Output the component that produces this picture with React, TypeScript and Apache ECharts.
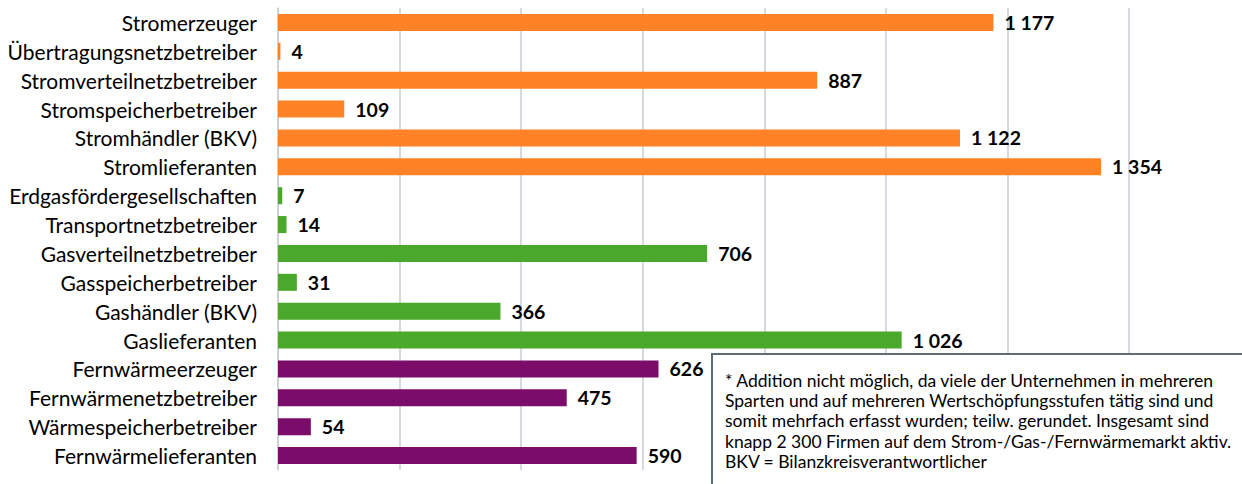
import React, { useEffect, useRef } from "react";
import * as echarts from "echarts";

const stromCategories = [
  "Stromerzeuger",
  "Übertragungsnetzbetreiber",
  "Stromverteilnetzbetreiber",
  "Stromspeicherbetreiber",
  "Stromhändler (BKV)",
  "Stromlieferanten",
];
const stromValues = [1177, 4, 887, 109, 1122, 1354];

const gasCategories = [
  "Erdgasfördergesellschaften",
  "Transportnetzbetreiber",
  "Gasverteilnetzbetreiber",
  "Gasspeicherbetreiber",
  "Gashändler (BKV)",
  "Gaslieferanten",
];
const gasValues = [7, 14, 706, 31, 366, 1026];

const waermeCategories = [
  "Fernwärmeerzeuger",
  "Fernwärmenetzbetreiber",
  "Wärmespeicherbetreiber",
  "Fernwärmelieferanten",
];
const waermeValues = [626, 475, 54, 590];

const groupColors = { strom: "#FF8326", gas: "#4AA82A", waerme: "#7B0C6A" };

const noteLines = [
  "* Addition nicht möglich, da viele der Unternehmen in mehreren",
  "Sparten und auf mehreren Wertschöpfungsstufen tätig sind und",
  "somit mehrfach erfasst wurden; teilw. gerundet. Insgesamt sind",
  "knapp 2 300 Firmen auf dem Strom-/Gas-/Fernwärmemarkt aktiv.",
  "BKV = Bilanzkreisverantwortlicher",
];

const FONT = "Lato, 'Open Sans', sans-serif";

function fmt(v: number): string {
  return String(v).replace(/\B(?=(\d{3})+(?!\d))/g, " ");
}

export default function App() {
  const ref = useRef<HTMLDivElement>(null);
  useEffect(() => {
    if (!ref.current) return;
    const chart = echarts.init(ref.current, undefined, { renderer: "svg" });
    const categories = [...stromCategories, ...gasCategories, ...waermeCategories];
    const data = [
      ...stromValues.map((v) => ({ value: v, itemStyle: { color: groupColors.strom } })),
      ...gasValues.map((v) => ({ value: v, itemStyle: { color: groupColors.gas } })),
      ...waermeValues.map((v) => ({ value: v, itemStyle: { color: groupColors.waerme } })),
    ];
    chart.setOption({
      animation: false,
      grid: { left: 278, right: 113, top: 8, bottom: 14, containLabel: false },
      xAxis: {
        type: "value",
        min: 0,
        max: 1400,
        interval: 200,
        axisLabel: { show: false },
        axisLine: { show: false },
        axisTick: { show: false },
        splitLine: { show: true, lineStyle: { color: "#C8CED6", width: 1.5 } },
      },
      yAxis: {
        type: "category",
        inverse: true,
        data: categories,
        axisLine: { show: true, lineStyle: { color: "#C8CED6", width: 1.5 } },
        axisTick: { show: false },
        axisLabel: {
          color: "#000",
          fontFamily: FONT,
          fontSize: 21,
          margin: 21,
        },
      },
      series: [
        {
          type: "bar",
          data,
          barWidth: 17,
          label: {
            show: true,
            position: "right",
            distance: 11,
            color: "#000",
            fontFamily: FONT,
            fontWeight: "bold",
            fontSize: 19.5,
            formatter: (p: any) => fmt(p.value),
          },
        },
      ],
      graphic: [
        {
          type: "rect",
          left: 711,
          top: 353,
          shape: { width: 600, height: 200 },
          style: { fill: "#fff", stroke: "#5F6B78", lineWidth: 2 },
          z: 100,
        },
        {
          type: "text",
          left: 725,
          top: 370,
          z: 101,
          style: {
            text: noteLines.join("\n"),
            fill: "#000",
            font: `17.5px ${FONT}`,
            lineHeight: 20.3,
          },
        },
      ],
    });
    return () => chart.dispose();
  }, []);
  return (
    <div
      ref={ref}
      style={{ position: "fixed", left: 0, top: 0, width: 1242, height: 484, background: "#fff" }}
    />
  );
}
